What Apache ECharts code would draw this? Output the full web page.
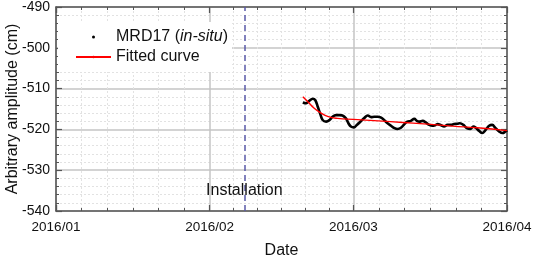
<!DOCTYPE html>
<html>
<head>
<meta charset="UTF-8">
<title>MRD17 amplitude</title>
<script src="https://cdn.jsdelivr.net/npm/echarts@6/dist/echarts.min.js"></script>
<style>
  html, body { margin: 0; padding: 0; background: #fff; }
  #chart { width: 533px; height: 257px; }
</style>
</head>
<body>
<div id="chart"></div>
<script>
// days counted from 2016/01/01 00:00
var mrdDays = [49.8, 50.5, 51.1, 51.8, 52.3, 52.8, 53.4, 53.8, 54.5, 55.2, 55.8, 56.5, 57.2, 57.8,
  58.5, 59.0, 59.5, 60.1, 60.7, 61.6, 62.2, 62.9, 63.6, 64.2, 64.9, 65.6, 66.2, 66.9, 67.6, 68.3,
  68.9, 69.6, 70.3, 70.9, 71.6, 72.3, 72.8, 73.3, 74.0, 74.6, 75.3, 76.0, 76.6, 77.0, 77.7, 78.3,
  79.0, 79.7, 80.3, 81.0, 81.5, 82.2, 82.9, 83.6, 84.2, 84.7, 85.4, 86.0, 86.7, 87.4, 88.0, 88.7,
  89.4, 90.1, 90.7, 91.0];
var mrdValues = [-513.4, -513.6, -513.0, -512.5, -512.8, -514.4, -516.5, -517.7, -518.1, -517.7,
  -516.9, -516.5, -516.5, -516.6, -517.3, -518.5, -519.3, -519.5, -518.9, -517.9, -517.2, -516.6,
  -517.0, -516.9, -516.9, -517.1, -517.7, -518.5, -519.1, -519.7, -519.9, -519.6, -518.7, -518.1,
  -517.9, -517.4, -517.9, -518.1, -517.9, -518.3, -518.9, -519.1, -518.9, -518.7, -519.0, -519.3,
  -518.9, -518.9, -518.7, -518.6, -518.5, -518.9, -519.7, -519.9, -519.3, -519.6, -520.4, -520.9,
  -520.1, -519.1, -518.9, -519.7, -520.5, -520.9, -520.5, -520.2];

var fitDays = [49.8, 50.8, 52.1, 53.5, 54.8, 56.8, 60, 65, 70, 75, 80, 85, 91];
var fitValues = [-512.0, -513.2, -514.8, -516.0, -516.8, -517.3, -517.55, -517.9, -518.3, -518.7,
  -519.2, -519.6, -520.3];

var installDay = 38; // 2016/02/08
var installLabelValue = -535.0;

var yMin = -540, yMax = -490, yStep = 10;

var DAY = 86400000;
var t0 = new Date(2016, 0, 1).getTime();
var tEnd = new Date(2016, 3, 1).getTime();
function toTime(d) { return t0 + d * DAY; }
function pairs(ds, vs) {
  return ds.map(function (d, i) { return [toTime(d), vs[i]]; });
}

var font = 'Liberation Sans, Arial, sans-serif';
var axisColor = '#555';

var chart = echarts.init(document.getElementById('chart'));

var xBase = {
  type: 'time',
  min: t0,
  max: tEnd,
  minInterval: 28 * DAY,
  maxInterval: 31 * DAY,
  axisLine: { show: true, lineStyle: { color: axisColor, width: 1.5 } },
  axisTick: { show: true, inside: true, length: 6, lineStyle: { color: axisColor, width: 1.2 } },
  minorTick: { show: true, splitNumber: 6, length: 3, lineStyle: { color: axisColor } }
};
var yBase = {
  type: 'value',
  min: yMin,
  max: yMax,
  interval: yStep,
  axisLine: { show: true, lineStyle: { color: axisColor, width: 1.5 } },
  axisTick: { show: true, inside: true, length: 6, lineStyle: { color: axisColor, width: 1.2 } },
  minorTick: { show: true, splitNumber: 5, length: 3, lineStyle: { color: axisColor } }
};

var option = {
  animation: false,
  textStyle: { fontFamily: font },
  grid: { left: 56, right: 26, top: 7, bottom: 46, containLabel: false, outerBoundsMode: 'none' },
  legend: {
    orient: 'vertical',
    left: 58,
    top: 22,
    padding: [6, 4, 6, 17],
    backgroundColor: '#fff',
    itemWidth: 35,
    itemHeight: 3,
    itemGap: 2,
    data: [{ name: 'MRD17', icon: 'circle' }, { name: 'Fitted curve' }],
    formatter: function (name) {
      return name === 'MRD17' ? 'MRD17 ({i|in-situ})' : name;
    },
    textStyle: {
      fontFamily: font, fontSize: 16, color: '#111', lineHeight: 18,
      rich: { i: { fontFamily: font, fontSize: 16, fontStyle: 'italic', color: '#111', lineHeight: 18 } }
    }
  },
  xAxis: [
    Object.assign({}, xBase, {
      position: 'bottom',
      name: 'Date',
      nameLocation: 'middle',
      nameGap: 32,
      nameMoveOverlap: false,
      nameTextStyle: { fontFamily: font, fontSize: 16, color: '#111' },
      axisLabel: {
        formatter: '{yyyy}/{MM}', fontFamily: font, fontSize: 13.5, color: '#111', margin: 9,
        showMinLabel: true, showMaxLabel: true
      },
      splitLine: { show: true, lineStyle: { color: '#c4c4c4', width: 1.5 } },
      minorSplitLine: { show: true, lineStyle: { color: '#e2e2e2', type: [2, 2], width: 1 } }
    }),
    Object.assign({}, xBase, {
      position: 'top',
      axisLabel: { show: false },
      splitLine: { show: false }
    })
  ],
  yAxis: [
    Object.assign({}, yBase, {
      position: 'left',
      name: 'Arbitrary amplitude (cm)',
      nameLocation: 'middle',
      nameGap: 35,
      nameMoveOverlap: false,
      nameTextStyle: { fontFamily: font, fontSize: 16, color: '#111' },
      axisLabel: { fontFamily: font, fontSize: 14, color: '#111', margin: 6 },
      splitLine: { show: true, lineStyle: { color: '#c4c4c4', width: 1.5 } },
      minorSplitLine: { show: true, lineStyle: { color: '#e2e2e2', type: [2, 2], width: 1 } }
    }),
    Object.assign({}, yBase, {
      position: 'right',
      axisLabel: { show: false },
      splitLine: { show: false }
    })
  ],
  series: [
    {
      name: 'MRD17',
      type: 'line',
      data: pairs(mrdDays, mrdValues),
      smooth: 0.4,
      showSymbol: false,
      symbol: 'none',
      color: '#000',
      lineStyle: { color: '#000', width: 2.6 },
      z: 3,
      markLine: {
        silent: true,
        symbol: 'none',
        label: { show: false },
        lineStyle: { color: '#5a5aa8', type: [6, 4], width: 1.5 },
        data: [{ xAxis: toTime(installDay) }]
      },
      markPoint: {
        silent: true,
        symbol: 'circle',
        symbolSize: 0,
        label: {
          show: true, position: 'inside', formatter: 'Installation',
          fontFamily: font, fontSize: 16, color: '#111'
        },
        data: [{ coord: [toTime(installDay), installLabelValue] }]
      }
    },
    {
      name: 'Fitted curve',
      type: 'line',
      data: pairs(fitDays, fitValues),
      smooth: true,
      showSymbol: false,
      symbol: 'none',
      color: '#f00',
      lineStyle: { color: '#f00', width: 1.4 },
      z: 4
    }
  ]
};

chart.setOption(option);
</script>
</body>
</html>
